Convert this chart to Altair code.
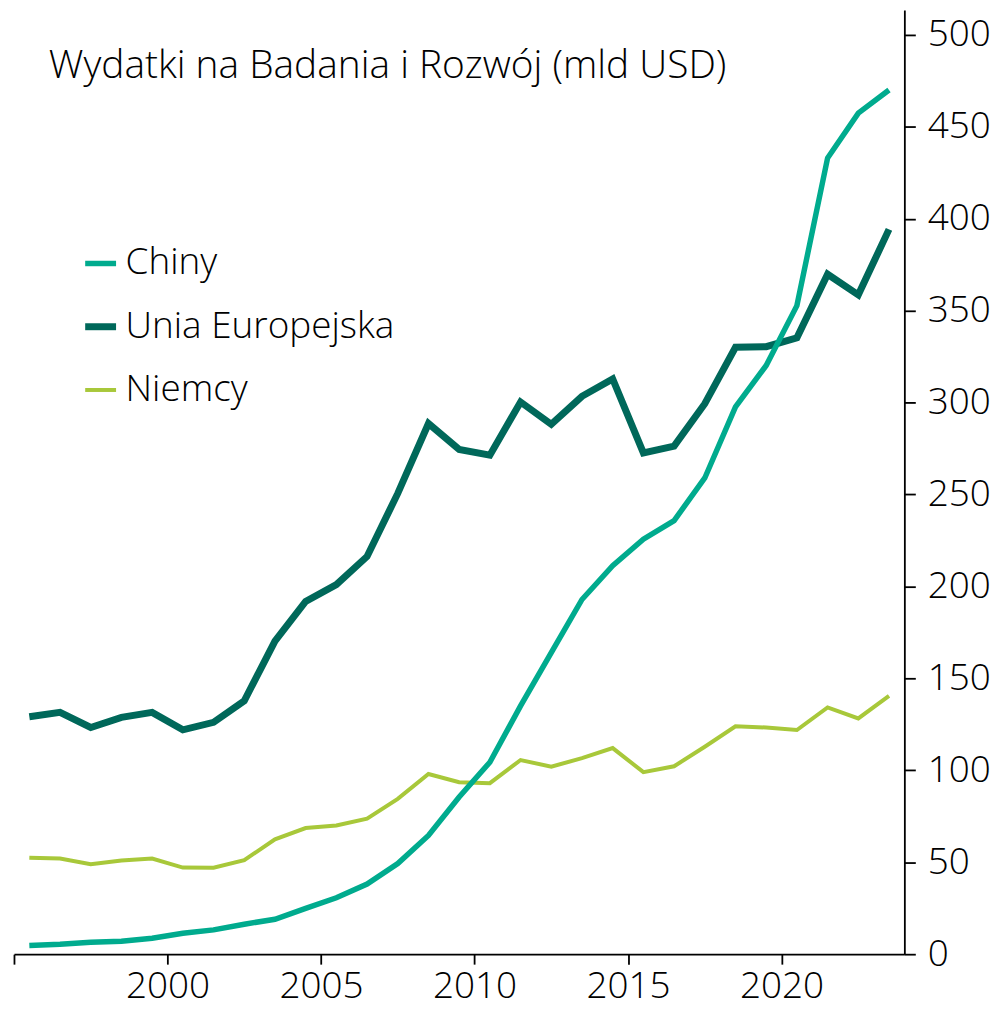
import altair as alt
import pandas as pd

# ---- data ----
years = list(range(1995, 2024))
series_names = ["Chiny", "Unia Europejska", "Niemcy"]
series_colors = ["#00AB8E", "#00685A", "#A8C83A"]
series_widths = [5.5, 7, 4]

chiny = [4.7, 5.4, 6.5, 7.0, 8.7, 11.4, 13.2, 16.3, 19.0, 24.9, 30.7, 38.1, 49.3, 64.6,
         85.5, 104.4, 135.0, 164.0, 192.9, 211.3, 225.7, 235.8, 259.0, 297.6, 320.2,
         352.7, 433.0, 457.4, 470.0]
unia = [129.1, 131.5, 123.3, 128.8, 131.5, 122.0, 126.1, 137.8, 170.3, 191.9, 201.0,
        216.3, 250.6, 288.6, 274.5, 271.4, 300.3, 288.2, 303.4, 312.9, 272.6, 276.3,
        299.4, 330.1, 330.4, 335.2, 369.8, 358.6, 394.2]
niemcy = [52.5, 52.0, 48.9, 50.9, 52.0, 47.1, 47.0, 51.1, 62.5, 68.6, 70.0, 73.7, 84.5,
          98.0, 93.5, 93.0, 105.6, 102.0, 106.6, 112.1, 99.0, 102.2, 112.8, 123.9, 123.3,
          121.9, 134.2, 128.2, 140.5]

x_ticks = [1995, 2000, 2005, 2010, 2015, 2020]
y_ticks = [0, 50, 100, 150, 200, 250, 300, 350, 400, 450, 500]
title_text = "Wydatki na Badania i Rozwój (mld USD)"

FONT = "Open Sans"
FW = 300

rows = []
# draw order: Niemcy, Unia, Chiny (Chiny on top)
for name, vals in [("Niemcy", niemcy), ("Unia Europejska", unia), ("Chiny", chiny)]:
    for y, v in zip(years, vals):
        rows.append({"rok": y + 0.5, "wartosc": v, "kraj": name})
df = pd.DataFrame(rows)

legend_cfg = alt.Legend(
    title=None, orient="none", legendX=68, legendY=236,
    symbolType="stroke", symbolSize=961, labelFontSize=37, labelFont=FONT,
    labelFontWeight=FW, labelColor="black", rowPadding=26, labelOffset=6,
    labelLimit=0,
)

lines = alt.Chart(df).mark_line(strokeJoin="miter", clip=True).encode(
    x=alt.X("rok:Q", scale=alt.Scale(domain=[1995, 2024], nice=False, zero=False),
            axis=alt.Axis(values=x_ticks, format="d", title=None, grid=False,
                          labelExpr="datum.value == 1995 ? '' : datum.label",
                          domainColor="black", domainWidth=1.8, tickColor="black",
                          tickWidth=1.8, tickSize=10, labelPadding=4,
                          labelFontSize=37, labelFont=FONT, labelFontWeight=FW,
                          labelColor="black", labelOverlap=False)),
    y=alt.Y("wartosc:Q", scale=alt.Scale(domain=[0, 513.5], nice=False),
            axis=alt.Axis(orient="right", values=y_ticks, title=None, grid=False,
                          domainColor="black", domainWidth=1.8, tickColor="black",
                          tickWidth=1.8, tickSize=11, labelPadding=12,
                          labelFontSize=37, labelFont=FONT, labelFontWeight=FW,
                          labelColor="black", labelOverlap=False)),
    color=alt.Color("kraj:N", scale=alt.Scale(domain=series_names, range=series_colors),
                    legend=legend_cfg),
    strokeWidth=alt.StrokeWidth("kraj:N",
                                scale=alt.Scale(type="ordinal", domain=series_names,
                                                range=series_widths),
                                legend=legend_cfg),
    detail="kraj:N",
)

title = alt.Chart(pd.DataFrame({"t": [title_text]})).mark_text(
    align="left", baseline="alphabetic", fontSize=39, font=FONT, fontWeight=FW, color="black"
).encode(text="t:N", x=alt.value(35), y=alt.value(68))

chart = alt.layer(lines, title).properties(
    width=894, height=948,
    padding={"left": 5, "top": 0, "right": 0, "bottom": 0},
).configure_view(stroke=None)

chart.save("out.html", embed_options={"renderer": "svg", "actions": False})
